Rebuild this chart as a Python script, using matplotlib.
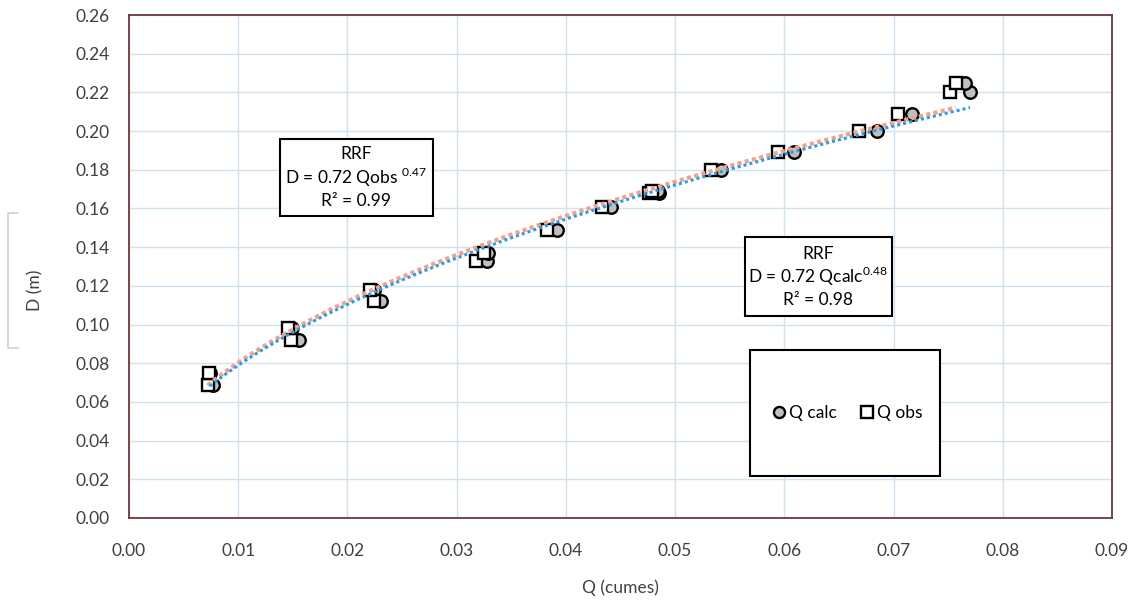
import numpy as np
import matplotlib.pyplot as plt
from matplotlib.patches import Rectangle
from matplotlib.lines import Line2D

plt.rcParams['font.family'] = ['Lato', 'DejaVu Sans']
plt.rcParams['mathtext.fontset'] = 'custom'
plt.rcParams['mathtext.rm'] = 'Lato'

# datos
D = [0.069, 0.075, 0.092, 0.098, 0.112, 0.118, 0.133, 0.137, 0.149, 0.161,
     0.168, 0.169, 0.180, 0.189, 0.200, 0.209, 0.220, 0.225]
Q_obs = [0.0072, 0.0073, 0.0148, 0.0146, 0.0224, 0.0221, 0.0318, 0.0325, 0.0383, 0.0433,
         0.0476, 0.0479, 0.0533, 0.0594, 0.0668, 0.0704, 0.0752, 0.0757]
Q_calc = [0.0077, 0.0074, 0.0156, 0.0149, 0.0231, 0.0224, 0.0328, 0.0329, 0.0392, 0.0441,
          0.0485, 0.0484, 0.0542, 0.0609, 0.0685, 0.0717, 0.0770, 0.0765]

W, H = 1135, 602
fig = plt.figure(figsize=(W / 100, H / 100), dpi=100)
ax = fig.add_axes([129 / W, 1 - 518 / H, (1112 - 129) / W, (518 - 15) / H])

txt_col = '#404040'
spine_col = '#6b3a3a'
fs = 12.5

# puntos (circulos detras de los cuadrados)
ax.plot(Q_calc, D, 'o', ms=9, mfc='#c0c0c0', mec='black', mew=1.7, label='Q calc', zorder=3)
ax.plot(Q_obs, D, 's', ms=9, mfc='white', mec='black', mew=1.7, label='Q obs', zorder=3.5)

# lineas de tendencia (ajuste potencial como Excel)
def tendencia(q, d):
    b, a = np.polyfit(np.log(q), np.log(d), 1)
    qq = np.linspace(min(q), max(q), 200)
    return qq, np.exp(a) * qq ** b

qx, dy = tendencia(Q_obs, D)
ax.plot(qx, dy, color='#f4a08a', lw=3, dashes=(1, 0.8), zorder=4)
qx, dy = tendencia(Q_calc, D)
ax.plot(qx, dy, color='#2b9ee0', lw=2.2, dashes=(1, 1), zorder=5)

ax.set_xlim(0, 0.09)
ax.set_ylim(0, 0.26)
ax.set_xticks(np.arange(0, 0.0901, 0.01))
ax.set_yticks(np.arange(0, 0.2601, 0.02))
ax.xaxis.set_major_formatter(plt.FormatStrFormatter('%.2f'))
ax.yaxis.set_major_formatter(plt.FormatStrFormatter('%.2f'))
ax.tick_params(length=0, labelsize=fs, colors=txt_col)
ax.tick_params(axis='x', pad=18)
ax.tick_params(axis='y', pad=14)
ax.grid(True, color='#cfe2f0', lw=1)
ax.set_axisbelow(True)
for s in ax.spines.values():
    s.set_color(spine_col)
    s.set_linewidth(1.3)

fig.text(620 / W, 1 - 588 / H, 'Q (cumes)', ha='center', va='center', fontsize=fs, color=txt_col)
fig.text(35 / W, 1 - 290 / H, 'D (m)', ha='center', va='center', rotation=90, fontsize=fs, color=txt_col)

def caja(x0, y0, x1, y1):
    r = Rectangle((x0 / W, 1 - y1 / H), (x1 - x0) / W, (y1 - y0) / H, transform=fig.transFigure,
                  fc='white', ec='black', lw=1.5, zorder=6)
    fig.add_artist(r)

def texto(x, y, s):
    fig.text(x / W, 1 - y / H, s, ha='center', va='center', fontsize=fs, color='black', zorder=7)

caja(280, 139, 433, 216)
texto(356, 154, 'RRF')
texto(356, 177, r'D = 0.72 Qobs $^{0.47}$')
texto(356, 201, 'R² = 0.99')

caja(745, 237, 892, 316)
texto(818, 254, 'RRF')
texto(818, 276, r'D = 0.72 Qcalc$^{0.48}$')
texto(818, 300, 'R² = 0.98')

caja(750, 350, 940, 476)
h = [Line2D([], [], ls='', marker='o', ms=8, mfc='#c0c0c0', mec='black', mew=1.7),
     Line2D([], [], ls='', marker='s', ms=8, mfc='white', mec='black', mew=1.7)]
leg = fig.legend(h, ['Q calc', 'Q obs'], loc='center', bbox_to_anchor=(848 / W, 1 - 413 / H),
                 ncol=2, frameon=False, fontsize=fs, handlelength=0.6, handletextpad=0.3,
                 columnspacing=1.4)
leg.set_zorder(8)

# corchete gris del borde izquierdo
fig.add_artist(Line2D([18 / W, 8 / W, 8 / W, 18 / W], [1 - 213 / H, 1 - 213 / H, 1 - 348 / H, 1 - 348 / H],
                      color='#d0d0d0', lw=1.2))

fig.savefig('out.png', dpi=100)
